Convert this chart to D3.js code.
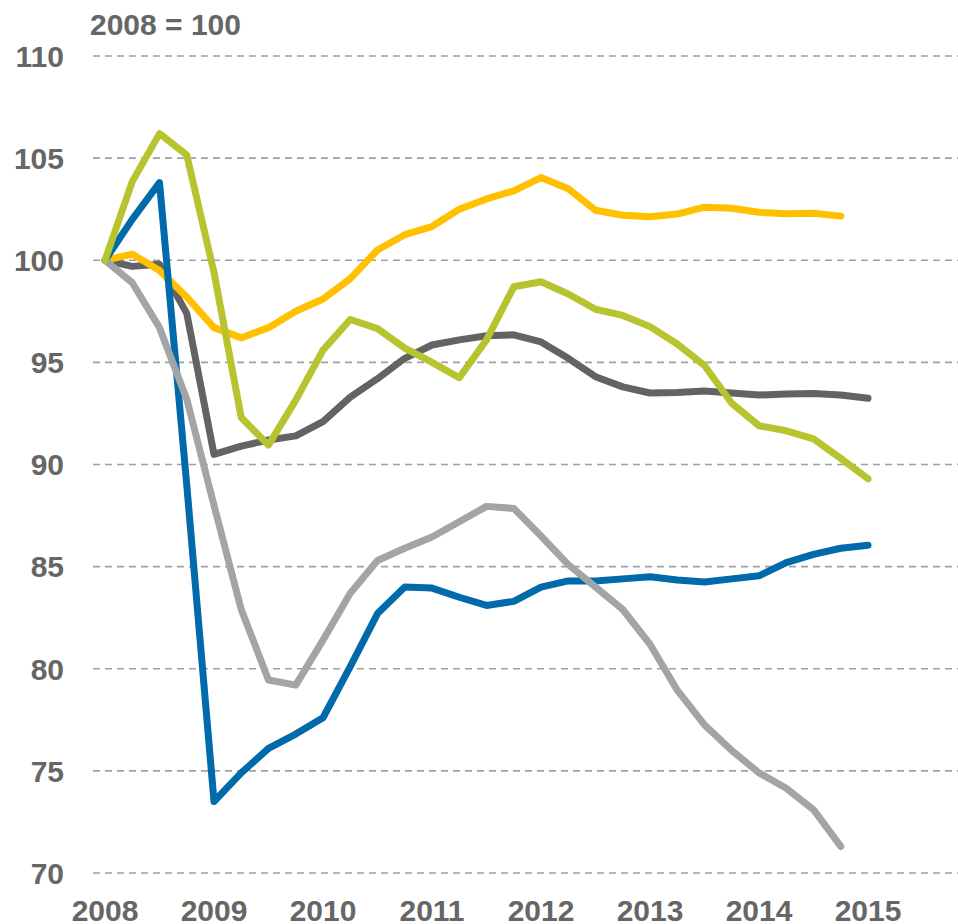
<!DOCTYPE html>
<meta charset="utf-8">
<script src="https://cdn.jsdelivr.net/npm/d3@7/dist/d3.min.js"></script>
<style>
body { margin: 0; background: #fff; }
.line { fill: none; stroke-width: 7px; stroke-linejoin: round; stroke-linecap: round; }
.grid line { stroke: #a0a0a0; stroke-width: 1.6px; stroke-dasharray: 7 5; }
text { font-family: Arial, "Liberation Sans", sans-serif; font-weight: bold; fill: #666; font-size: 30px; }
</style>
<body>
<script>

// quarterly index, 2008Q1 = 100
var years = ["2008", "2009", "2010", "2011", "2012", "2013", "2014", "2015"];
var yTicks = [70, 75, 80, 85, 90, 95, 100, 105, 110];

var darkGray = [100, 99.7, 99.8, 97.4, 90.5, 90.9, 91.2, 91.4, 92.1, 93.3, 94.2, 95.2, 95.85, 96.1, 96.3, 96.35,
                96.0, 95.2, 94.3, 93.8, 93.5, 93.53, 93.6, 93.5, 93.4, 93.45, 93.48, 93.4, 93.24];
var yellow   = [100, 100.3, 99.5, 98.2, 96.7, 96.2, 96.7, 97.5, 98.1, 99.1, 100.5, 101.25, 101.65, 102.5, 103.0, 103.4,
                104.05, 103.5, 102.45, 102.2, 102.13, 102.26, 102.6, 102.55, 102.35, 102.28, 102.3, 102.16];
var blue     = [100, 102.0, 103.8, 89.0, 73.5, 74.9, 76.1, 76.8, 77.6, 80.1, 82.7, 84.0, 83.95, 83.5, 83.1, 83.3,
                84.0, 84.3, 84.3, 84.4, 84.5, 84.35, 84.25, 84.4, 84.55, 85.2, 85.6, 85.9, 86.05];
var lightGray = [100, 98.9, 96.7, 93.2, 88.0, 82.9, 79.45, 79.2, 81.4, 83.7, 85.3, 85.9, 86.45, 87.2, 87.95, 87.85,
                86.5, 85.1, 84.0, 82.9, 81.2, 78.95, 77.25, 76.0, 74.9, 74.15, 73.1, 71.3];
var green    = [100, 103.85, 106.2, 105.15, 99.4, 92.3, 90.95, 93.15, 95.6, 97.1, 96.65, 95.7, 95.0, 94.25, 96.1, 98.7,
                98.95, 98.35, 97.6, 97.3, 96.75, 95.9, 94.85, 93.0, 91.9, 91.65, 91.25, 90.3, 89.3];

var series = [
  {values: darkGray, color: "#636363"},
  {values: yellow, color: "#ffc000"},
  {values: blue, color: "#006aaa"},
  {values: lightGray, color: "#a3a4a6"},
  {values: green, color: "#b8c42f"}
];

var width = 958, height = 924;

var x = d3.scaleLinear().domain([0, 28]).range([105, 868]);
var y = d3.scaleLinear().domain([70, 110]).range([873, 56]);

var svg = d3.select("body").append("svg")
    .attr("width", width)
    .attr("height", height);

// dashed gridlines
svg.append("g")
    .attr("class", "grid")
  .selectAll("line")
    .data(yTicks)
  .enter().append("line")
    .attr("x1", 93)
    .attr("x2", width)
    .attr("y1", function(d) { return y(d); })
    .attr("y2", function(d) { return y(d); });

// y labels
svg.append("g")
  .selectAll("text")
    .data(yTicks)
  .enter().append("text")
    .attr("x", 64)
    .attr("y", function(d) { return y(d); })
    .attr("dy", "0.36em")
    .attr("text-anchor", "end")
    .text(function(d) { return d; });

// x labels, at Q1 of each year
svg.append("g")
  .selectAll("text")
    .data(years)
  .enter().append("text")
    .attr("x", function(d, i) { return x(i * 4); })
    .attr("y", 921)
    .attr("text-anchor", "middle")
    .text(function(d) { return d; });

svg.append("text")
    .attr("x", 90)
    .attr("y", 35)
    .text("2008 = 100");

var line = d3.line()
    .x(function(d, i) { return x(i); })
    .y(function(d) { return y(d); });

svg.selectAll(".line")
    .data(series)
  .enter().append("path")
    .attr("class", "line")
    .style("stroke", function(d) { return d.color; })
    .attr("d", function(d) { return line(d.values); });

</script>
</body>
